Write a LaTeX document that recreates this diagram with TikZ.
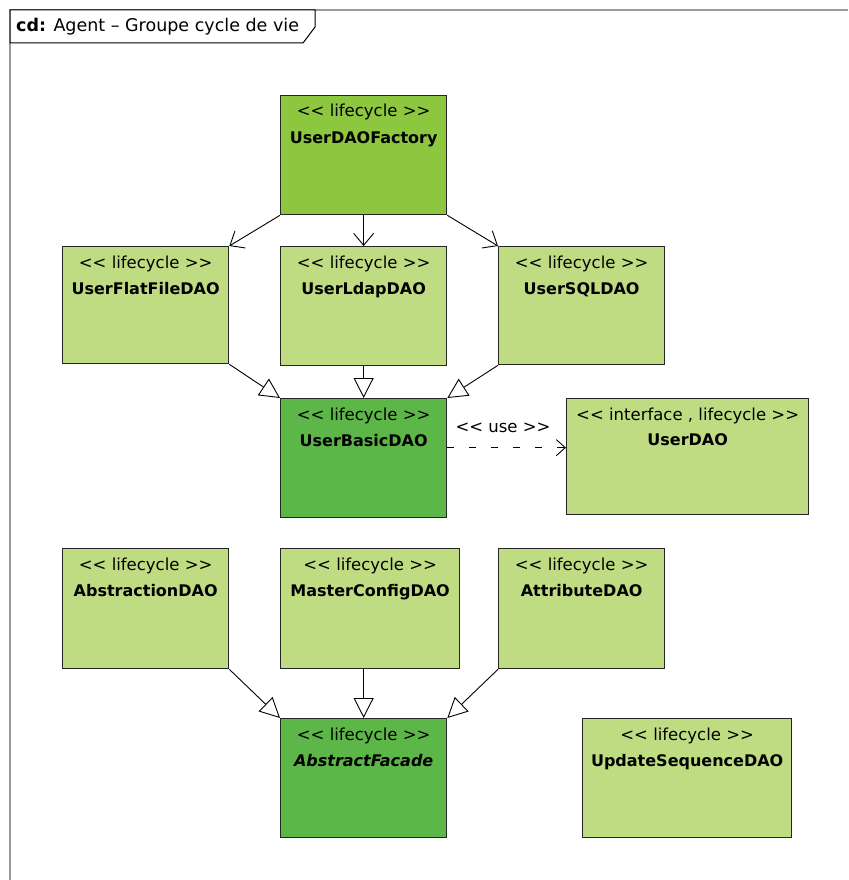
\documentclass[tikz,border=0pt]{standalone}
\usepackage{fontspec}
\setmainfont{DejaVu Sans}
\usetikzlibrary{arrows.meta}
\definecolor{lightg}{HTML}{BFDC83}
\definecolor{midg}{HTML}{8DC63F}
\definecolor{darkg}{HTML}{5CB648}
\definecolor{framegray}{HTML}{9A9A9A}
\begin{document}
\begin{tikzpicture}[x=1pt,y=-1pt,
 cls/.style={draw=black!85, line width=1.3pt, anchor=north west, inner sep=0pt, fill=lightg},
 stereo/.style={anchor=base, inner sep=0pt, font=\fontsize{16.5}{19}\selectfont},
 cname/.style={anchor=base, inner sep=0pt, font=\fontsize{16}{19}\selectfont\bfseries},
 dep/.style={draw, line width=0.9pt, -{Straight Barb[length=12pt,width=20pt,line width=0.9pt]}},
 gen/.style={draw, line width=0.9pt, -{Triangle[open,length=20pt,width=20pt,line width=0.9pt,fill=white]}},
 usedep/.style={draw, line width=0.9pt, dash pattern=on 7pt off 15pt, -{Straight Barb[length=9pt,width=16pt,line width=0.9pt]}}
]
\useasboundingbox (0,0) rectangle (848,880);
% frame
\draw[framegray, line width=1.8pt] (10,880) -- (10,10) -- (848,10);
\draw[black, line width=1pt, fill=white] (10,10) -- (315,10) -- (315,27) -- (303,43) -- (10,43) -- cycle;
\node[anchor=base west, inner sep=0pt, font=\fontsize{17.5}{20}\selectfont] (title) at (16,32) {\textbf{cd:} Agent – Groupe cycle de vie};

% boxes
\node[cls, fill=midg, minimum width=166pt, minimum height=119pt] (fact) at (280,95) {};
\node[cls, minimum width=166pt, minimum height=117pt] (flat) at (62,246) {};
\node[cls, minimum width=166pt, minimum height=119pt] (ldap) at (280,246) {};
\node[cls, minimum width=166pt, minimum height=118pt] (sql) at (498,246) {};
\node[cls, fill=darkg, minimum width=166pt, minimum height=119pt] (basic) at (280,398) {};
\node[cls, minimum width=242pt, minimum height=116pt] (udao) at (566,398) {};
\node[cls, minimum width=166pt, minimum height=120pt] (abst) at (62,548) {};
\node[cls, minimum width=179pt, minimum height=120pt] (master) at (280,548) {};
\node[cls, minimum width=166pt, minimum height=120pt] (attr) at (498,548) {};
\node[cls, fill=darkg, minimum width=166pt, minimum height=119pt] (facade) at (280,718) {};
\node[cls, minimum width=209pt, minimum height=119pt] (upd) at (582,718) {};

% texts
\node[stereo] (factS) at ([yshift=-22pt]fact.north) {<{}< lifecycle >{}>};
\node[cname] (factN) at ([yshift=-48pt]fact.north) {UserDAOFactory};
\node[stereo] (flatS) at ([yshift=-22pt]flat.north) {<{}< lifecycle >{}>};
\node[cname] (flatN) at ([yshift=-48pt]flat.north) {UserFlatFileDAO};
\node[stereo] (ldapS) at ([yshift=-22pt]ldap.north) {<{}< lifecycle >{}>};
\node[cname] (ldapN) at ([yshift=-48pt]ldap.north) {UserLdapDAO};
\node[stereo] (sqlS) at ([yshift=-22pt]sql.north) {<{}< lifecycle >{}>};
\node[cname] (sqlN) at ([yshift=-48pt]sql.north) {UserSQLDAO};
\node[stereo] (basicS) at ([yshift=-22pt]basic.north) {<{}< lifecycle >{}>};
\node[cname] (basicN) at ([yshift=-48pt]basic.north) {UserBasicDAO};
\node[stereo] (udaoS) at ([yshift=-22pt]udao.north) {<{}< interface , lifecycle >{}>};
\node[cname] (udaoN) at ([yshift=-47pt]udao.north) {UserDAO};
\node[stereo] (abstS) at ([yshift=-22pt]abst.north) {<{}< lifecycle >{}>};
\node[cname] (abstN) at ([yshift=-48pt]abst.north) {AbstractionDAO};
\node[stereo] (masterS) at ([yshift=-22pt]master.north) {<{}< lifecycle >{}>};
\node[cname] (masterN) at ([yshift=-48pt]master.north) {MasterConfigDAO};
\node[stereo] (attrS) at ([yshift=-22pt]attr.north) {<{}< lifecycle >{}>};
\node[cname] (attrN) at ([yshift=-48pt]attr.north) {AttributeDAO};
\node[stereo] (facadeS) at ([yshift=-22pt]facade.north) {<{}< lifecycle >{}>};
\node[cname, font=\fontsize{16}{19}\selectfont\bfseries\itshape] (facadeN) at ([yshift=-48pt]facade.north) {AbstractFacade};
\node[stereo] (updS) at ([yshift=-22pt]upd.north) {<{}< lifecycle >{}>};
\node[cname] (updN) at ([yshift=-48pt]upd.north) {UpdateSequenceDAO};

% dependencies from factory
\draw[dep] (fact.south west) -- (flat.north east);
\draw[dep] (fact.south) -- (ldap.north);
\draw[dep] (fact.south east) -- (sql.north west);

% generalizations
\draw[gen] (flat.south east) -- (basic.north west);
\draw[gen] (ldap.south) -- (basic.north);
\draw[gen] (sql.south west) -- (basic.north east);

\coordinate (m1) at (facade.north |- master.south);
\draw[gen] (abst.south east) -- (facade.north west);
\draw[gen] (m1) -- (facade.north);
\draw[gen] (attr.south west) -- (facade.north east);

% use
\coordinate (u1) at ([yshift=10.5pt]basic.east);
\coordinate (u2) at (u1 -| udao.west);
\draw[usedep] (u1) -- (u2);
\node[stereo] (useL) at (503,432) {<{}< use >{}>};
\end{tikzpicture}
\end{document}
